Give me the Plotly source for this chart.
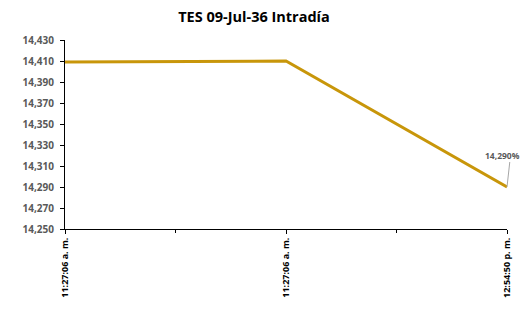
import plotly.graph_objects as go

time_labels = ["11:27:06 a. m.", "11:27:06 a. m.", "12:54:50 p. m."]
yields = [14.409, 14.410, 14.290]
y_ticks = [14.250, 14.270, 14.290, 14.310, 14.330, 14.350, 14.370, 14.390, 14.410, 14.430]
title = "TES 09-Jul-36 Intradía"
last_label = "14,290%"

x_idx = list(range(len(time_labels)))
FONT = "Open Sans, Lato, sans-serif"

def fmt(v):
    return f"{v:.3f}".replace(".", ",")

# page body has an 8px default margin; compensate so the plot lands where the reference is
OFF = 8
W, H = 531 - OFF, 310 - OFF

fig = go.Figure()
fig.add_trace(go.Scatter(
    x=x_idx, y=yields, mode="lines",
    line=dict(color="#C8960A", width=3),
    hoverinfo="skip", showlegend=False,
))

# leader line
fig.add_annotation(
    x=x_idx[-1], y=yields[-1], text=" ",
    showarrow=True, arrowhead=0, arrowwidth=1, arrowcolor="#A6A6A6",
    ax=3, ay=-27, font=dict(size=1),
)
# data label
fig.add_annotation(
    x=x_idx[-1], y=yields[-1], text=f"<b>{last_label}</b>",
    showarrow=False, xanchor="right", yanchor="middle", xshift=15, yshift=32,
    font=dict(family=FONT, size=8.5, color="#595959"),
)

fig.update_layout(
    width=W, height=H,
    margin=dict(l=65 - OFF, r=24, t=39.5 - OFF, b=81 - OFF),
    paper_bgcolor="white", plot_bgcolor="white",
    title=dict(text=f"<b>{title}</b>", x=(254 - OFF) / W, xanchor="center",
               y=1 - (17 - OFF) / H, yanchor="middle",
               font=dict(family=FONT, size=14.5, color="black")),
    xaxis=dict(
        range=[0, 2], tickmode="array", tickvals=x_idx, ticktext=[f"<b>{t}</b>" for t in time_labels],
        tickangle=-90, ticks="outside", ticklen=4, tickcolor="black",
        showline=True, linecolor="black", linewidth=1, showgrid=False, zeroline=False,
        minor=dict(tickvals=[0.5, 1.5], ticks="outside", ticklen=3, tickcolor="black"),
        tickfont=dict(family=FONT, size=9, color="black"),
    ),
    yaxis=dict(
        range=[14.250, 14.430], tickmode="array", tickvals=y_ticks,
        ticktext=[f"<b>{fmt(v)}</b>" for v in y_ticks],
        ticks="outside", ticklen=4, tickcolor="black", ticklabelstandoff=4,
        showline=True, linecolor="black", linewidth=1, showgrid=False, zeroline=False,
        tickfont=dict(family=FONT, size=10, color="#595959"),
    ),
)

fig.write_html("out.html")
